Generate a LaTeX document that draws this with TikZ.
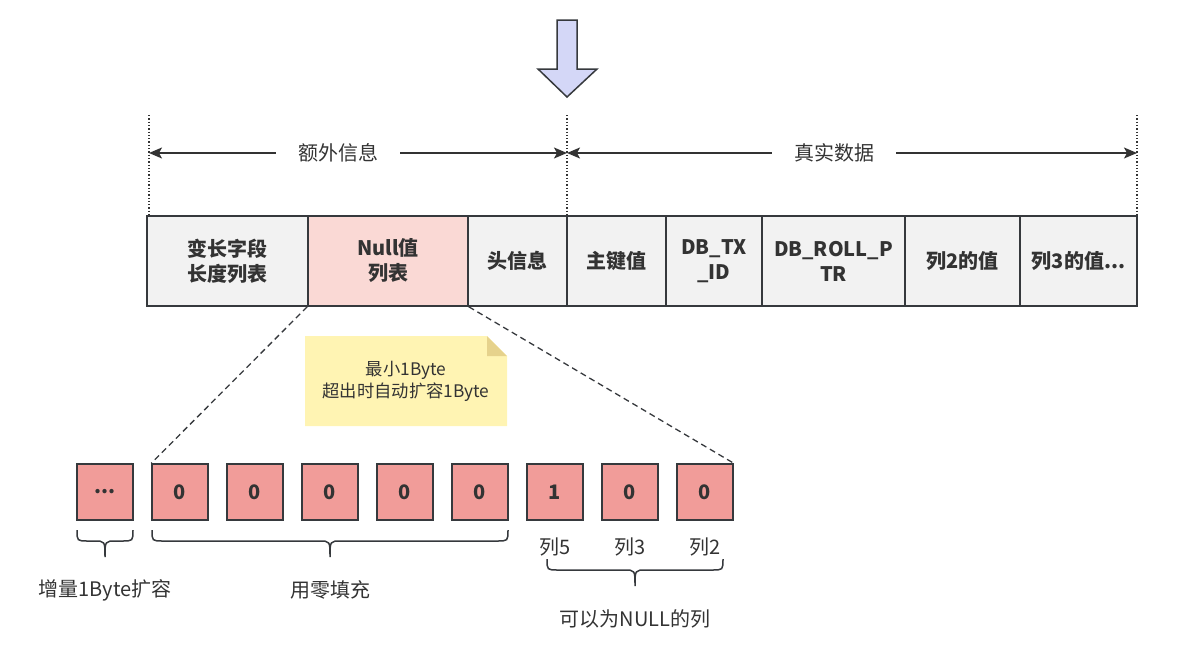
\documentclass[tikz,border=0pt]{standalone}
\usepackage{fontspec}
\setmainfont{Noto Sans CJK SC}
\usetikzlibrary{arrows.meta}

\definecolor{linegray}{HTML}{36393D}
\definecolor{txtgray}{HTML}{333333}
\definecolor{fieldgray}{HTML}{F2F2F2}
\definecolor{nullpink}{HTML}{FAD9D5}
\definecolor{bitred}{HTML}{F19C99}
\definecolor{notefill}{HTML}{FFF4B3}
\definecolor{notefold}{HTML}{E6D28C}
\definecolor{arrowblue}{HTML}{D4D7F7}

% curly brace under a run of bytes: x left, x right, y top
\newcommand\curly[3]{%
  \draw[brace line] (#1,#3) .. controls (#1,#3+11) .. (#1+11,#3+11)
    -- ({(#1+#2)/2-11},#3+11) .. controls ({(#1+#2)/2},#3+11) .. ({(#1+#2)/2},#3+27)
    .. controls ({(#1+#2)/2},#3+11) .. ({(#1+#2)/2+11},#3+11)
    -- (#2-11,#3+11) .. controls (#2,#3+11) .. (#2,#3);}

\tikzset{
  field/.style={draw=linegray, fill=fieldgray, line width=1.5pt, minimum height=90pt,
    inner sep=0pt, align=center, text=txtgray, font=\fontsize{20}{25}\selectfont\bfseries},
  bit/.style={draw=linegray, fill=bitred, line width=1.5pt, minimum size=56pt,
    inner sep=0pt, text=txtgray, font=\fontsize{20}{24}\selectfont\bfseries},
  lbl/.style={text=txtgray, font=\fontsize{20}{24}\selectfont, inner sep=0pt},
  span/.style={-{Stealth[length=13pt,width=11pt,inset=3pt]}, line width=1.5pt, draw=txtgray},
  guide/.style={dotted, line width=1.3pt, draw=txtgray},
  brace line/.style={line width=1.5pt, draw=linegray},
  link/.style={dash pattern=on 6pt off 4pt, line width=1.3pt, draw=linegray}
}

\begin{document}
\begin{tikzpicture}[x=1pt, y=-1pt]
  \useasboundingbox (0,0) rectangle (1178,654);

  % arrow on top
  \filldraw[fill=arrowblue, draw=linegray, line width=1.5pt]
    (557,20) -- (577,20) -- (577,69) -- (597,69) -- (567,97) -- (538,69) -- (557,69) -- cycle;

  % guides and spans
  \coordinate (g1) at (149,115);
  \coordinate (g2) at (567,115);
  \coordinate (g3) at (1137,115);
  \draw[guide] (g1) -- (149,216);
  \draw[guide] (g2) -- (567,216);
  \draw[guide] (g3) -- (1137,216);

  \coordinate (exL) at (149,153);
  \coordinate (exR) at (567,153);
  \coordinate (reR) at (1137,153);
  \node[lbl, inner xsep=22pt] (extra) at (338,153) {额外信息};
  \node[lbl, inner xsep=22pt] (real) at (834,153) {真实数据};
  \draw[span] (extra.west) -- (exL);
  \draw[span] (extra.east) -- (exR);
  \draw[span] (real.west) -- (exR);
  \draw[span] (real.east) -- (reR);

  % row format
  \node[field, minimum width=161pt] (varlen) at (227.5,261) {变长字段\\长度列表};
  \node[field, minimum width=160pt, fill=nullpink] (null) at (388,261) {Null值\\列表};
  \node[field, minimum width=99pt] (head) at (517.5,261) {头信息};
  \node[field, minimum width=99pt] (pkey) at (616.5,261) {主键值};
  \node[field, minimum width=96pt] (txid) at (714,261) {DB\_TX\\\_ID};
  \node[field, minimum width=143pt] (roll) at (833.5,261) {DB\_ROLL\_P\\TR};
  \node[field, minimum width=115pt] (col2) at (962.5,261) {列2的值};
  \node[field, minimum width=117pt] (col3) at (1078.5,261) {列3的值...};

  % note
  \fill[notefill] (305,336) -- (487,336) -- (507,356) -- (507,426) -- (305,426) -- cycle;
  \fill[notefold] (487,336) -- (507,356) -- (487,356) -- cycle;
  \node[lbl, font=\fontsize{17.3}{22}\selectfont, align=center] (note) at (406,381)
    {最小1Byte\\超出时自动扩容1Byte};

  % null bitmap bytes
  \node[bit] (b0) at (105,492) {...};
  \foreach \v [count=\i] in {0,0,0,0,0,1,0,0}
    \node[bit] (b\i) at (105+75*\i,492) {\v};

  \draw[link] (null.south west) -- (b1.north west);
  \draw[link] (null.south east) -- (b8.north east);

  \node[lbl] (c5) at (555,547) {列5};
  \node[lbl] (c3) at (630,547) {列3};
  \node[lbl] (c2) at (705,547) {列2};

  \curly{77}{133}{530}
  \curly{152}{508}{530}
  \curly{547}{723}{559}

  \node[lbl] (grow) at (105,590) {增量1Byte扩容};
  \node[lbl] (zero) at (330,590) {用零填充};
  \node[lbl] (nullable) at (635,619) {可以为NULL的列};
\end{tikzpicture}
\end{document}
